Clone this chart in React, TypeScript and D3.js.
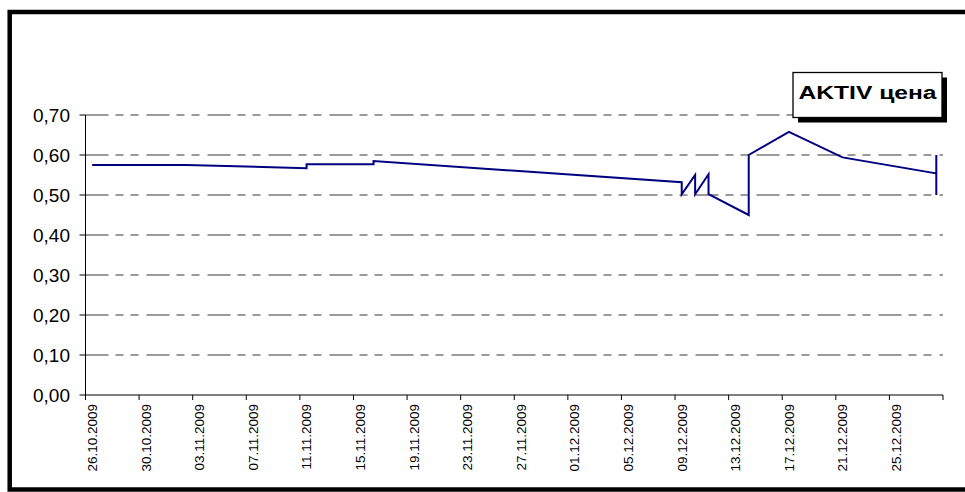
import { useEffect, useRef } from 'react'
import * as d3 from 'd3'

const width = 965
const height = 492

// price points (repeated dates give the vertical jumps)
const dates = [
  '26.10.2009', '02.11.2009', '11.11.2009', '11.11.2009', '16.11.2009', '16.11.2009',
  '09.12.2009', '09.12.2009', '10.12.2009', '10.12.2009', '11.12.2009', '11.12.2009',
  '14.12.2009', '14.12.2009', '17.12.2009', '21.12.2009', '28.12.2009', '28.12.2009', '28.12.2009',
]
const prices = [
  0.575, 0.575, 0.567, 0.577, 0.577, 0.585,
  0.532, 0.502, 0.55, 0.502, 0.552, 0.502,
  0.45, 0.6, 0.658, 0.594, 0.554, 0.6, 0.5,
]
const tickLabels = [
  '26.10.2009', '30.10.2009', '03.11.2009', '07.11.2009', '11.11.2009', '15.11.2009',
  '19.11.2009', '23.11.2009', '27.11.2009', '01.12.2009', '05.12.2009', '09.12.2009',
  '13.12.2009', '17.12.2009', '21.12.2009', '25.12.2009',
]
const yTicks = [0, 0.1, 0.2, 0.3, 0.4, 0.5, 0.6, 0.7]
const axisStart = '26.10.2009'
const axisEnd = '29.12.2009'
const seriesName = 'AKTIV цена'

export default function App() {
  const svgRef = useRef<SVGSVGElement>(null)

  useEffect(() => {
    if (!svgRef.current) return
    const svg = d3.select(svgRef.current)
    svg.selectAll('*').remove()

    const parse = d3.timeParse('%d.%m.%Y')
    const font = '"Liberation Sans", Arial, sans-serif'
    const left = 85.5
    const right = 943
    const top = 115
    const bottom = 395

    const x = d3.scaleTime()
      .domain([parse(axisStart)!, parse(axisEnd)!])
      .range([left, right])
    const y = d3.scaleLinear().domain([0, 0.7]).range([bottom, top])
    const mid = (d: Date) => d3.timeHour.offset(d, 12)

    svg.append('rect').attr('width', width).attr('height', height).attr('fill', 'white')

    // outer frame
    svg.append('rect')
      .attr('x', 9.7).attr('y', 12).attr('width', 1000).attr('height', 477.5)
      .attr('fill', 'none').attr('stroke', 'black').attr('stroke-width', 4.5)

    // gridlines
    yTicks.forEach(v => {
      if (v > 0) {
        svg.append('line')
          .attr('x1', left).attr('x2', right)
          .attr('y1', y(v)).attr('y2', y(v))
          .attr('stroke', '#7a7a7a').attr('stroke-width', 1.6)
          .attr('stroke-dasharray', '23 7 8 7 8 8')
      }
      svg.append('line')
        .attr('x1', left - 6).attr('x2', left)
        .attr('y1', y(v)).attr('y2', y(v))
        .attr('stroke', 'black').attr('stroke-width', 1)
      svg.append('text')
        .attr('x', 70).attr('y', y(v)).attr('dy', '0.36em')
        .attr('text-anchor', 'end')
        .attr('font-family', font).attr('font-size', 19)
        .text(d3.format('.2f')(v).replace('.', ','))
    })

    // axes
    svg.append('line')
      .attr('x1', left).attr('x2', left).attr('y1', top).attr('y2', bottom)
      .attr('stroke', 'black').attr('stroke-width', 1)
    svg.append('line')
      .attr('x1', left).attr('x2', right).attr('y1', bottom).attr('y2', bottom)
      .attr('stroke', 'black').attr('stroke-width', 1)

    const tickDates = tickLabels.map(t => parse(t)!)
    ;[...tickDates, parse(axisEnd)!].forEach(d => {
      svg.append('line')
        .attr('x1', x(d)).attr('x2', x(d)).attr('y1', bottom).attr('y2', bottom + 5)
        .attr('stroke', 'black').attr('stroke-width', 1)
    })
    tickLabels.forEach((t, i) => {
      const cx = x(mid(tickDates[i]))
      svg.append('text')
        .attr('transform', `translate(${cx},${bottom + 9}) rotate(-90)`)
        .attr('dy', '0.36em')
        .attr('text-anchor', 'end')
        .attr('font-family', font).attr('font-size', 13.5)
        .text(t)
    })

    // series line
    const pts = dates.map((d, i) => ({ date: mid(parse(d)!), value: prices[i] }))
    const line = d3.line<{ date: Date; value: number }>()
      .x(d => x(d.date))
      .y(d => y(d.value))
    svg.append('path')
      .datum(pts)
      .attr('d', line)
      .attr('fill', 'none')
      .attr('stroke', '#000080')
      .attr('stroke-width', 2)
      .attr('stroke-linejoin', 'miter')

    // legend
    const lx = 793
    const ly = 72.5
    const lw = 149
    const lh = 45
    svg.append('rect')
      .attr('x', lx + 5).attr('y', ly + 5).attr('width', lw).attr('height', lh)
      .attr('fill', 'black')
    svg.append('rect')
      .attr('x', lx).attr('y', ly).attr('width', lw).attr('height', lh)
      .attr('fill', 'white').attr('stroke', 'black').attr('stroke-width', 1.3)
    svg.append('text')
      .attr('x', lx + lw / 2).attr('y', 99.3)
      .attr('text-anchor', 'middle')
      .attr('font-family', font).attr('font-weight', 'bold').attr('font-size', 18)
      .attr('textLength', 138).attr('lengthAdjust', 'spacingAndGlyphs')
      .text(seriesName)
  }, [])

  return (
    <svg
      ref={svgRef}
      width={width}
      height={height}
      style={{ position: 'absolute', left: 0, top: 0, overflow: 'hidden' }}
    />
  )
}
